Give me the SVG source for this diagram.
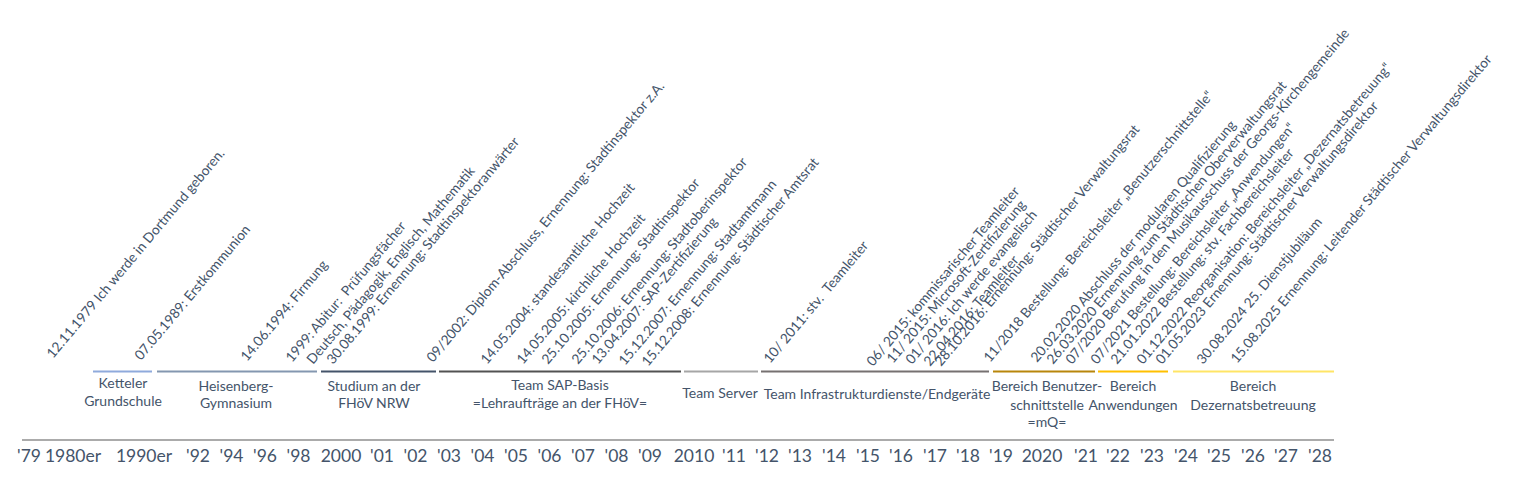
<svg xmlns="http://www.w3.org/2000/svg" width="1519" height="480" viewBox="0 0 1519 480">
<style>
text{font-family:Lato,"Open Sans","Liberation Sans",sans-serif;fill:#44546A}
.ev{font-size:13.7px}
.bl{font-size:14px;text-anchor:middle}
.ax{font-size:17.5px;text-anchor:middle}
.band{stroke-width:2;fill:none}
</style>
<rect width="1519" height="480" fill="#fff"/>
<g id="events">
<text class="ev" x="53" y="359" transform="rotate(-50 53 359)">12.11.1979 Ich werde in Dortmund geboren.</text>
<text class="ev" x="141" y="361" transform="rotate(-50 141 361)">07.05.1989: Erstkommunion</text>
<text class="ev" x="247" y="362" transform="rotate(-50 247 362)">14.06.1994: Firmung</text>
<text class="ev" x="292" y="363" transform="rotate(-50 292 363)" xml:space="preserve">1999: Abitur:  Prüfungsfächer</text>
<text class="ev" x="313" y="365" transform="rotate(-50 313 365)">Deutsch, Pädagogik, Englisch, Mathematik</text>
<text class="ev" x="333" y="365" transform="rotate(-50 333 365)">30.08.1999: Ernennung: Stadtinspektoranwärter</text>
<text class="ev" x="433" y="363" transform="rotate(-50 433 363)">09/2002: Diplom-Abschluss, Ernennung: Stadtinspektor z.A.</text>
<text class="ev" x="487" y="365" transform="rotate(-50 487 365)">14.05.2004: standesamtliche Hochzeit</text>
<text class="ev" x="523" y="365" transform="rotate(-50 523 365)">14.05.2005: kirchliche Hochzeit</text>
<text class="ev" x="548" y="365" transform="rotate(-50 548 365)">25.10.2005: Ernennung: Stadtinspektor</text>
<text class="ev" x="578" y="365" transform="rotate(-50 578 365)">25.10.2006: Ernennung: Stadtoberinspektor</text>
<text class="ev" x="598" y="365" transform="rotate(-50 598 365)">13.04.2007: SAP-Zertifizierung</text>
<text class="ev" x="625" y="366" transform="rotate(-50 625 366)">15.12.2007: Ernennung: Stadtamtmann</text>
<text class="ev" x="648" y="367" transform="rotate(-50 648 367)">15.12.2008: Ernennung: Städtischer Amtsrat</text>
<text class="ev" x="770" y="364" transform="rotate(-50 770 364)" xml:space="preserve">10/ 2011: stv.  Teamleiter</text>
<text class="ev" x="873" y="367" transform="rotate(-50 873 367)">06/ 2015: kommissarischer Teamleiter</text>
<text class="ev" x="893" y="364" transform="rotate(-50 893 364)">11/ 2015: Microsoft-Zertifizierung</text>
<text class="ev" x="912" y="365" transform="rotate(-50 912 365)">01/ 2016: Ich werde evangelisch</text>
<text class="ev" x="930" y="367" transform="rotate(-50 930 367)">22.04.2016: Teamleiter</text>
<text class="ev" x="941" y="367" transform="rotate(-50 941 367)">28.10.2016: Ernennung: Städtischer Verwaltungsrat</text>
<text class="ev" x="990" y="363" transform="rotate(-50 990 363)">11/2018 Bestellung: Bereichsleiter „Benutzerschnittstelle“</text>
<text class="ev" x="1037" y="363" transform="rotate(-50 1037 363)">20.02.2020 Abschluss der modularen Qualifizierung</text>
<text class="ev" x="1053" y="365" transform="rotate(-50 1053 365)">26.03.2020 Ernennung zum Städtischen Oberverwaltungsrat</text>
<text class="ev" x="1072" y="365" transform="rotate(-50 1072 365)">07/2020 Berufung in den Musikausschuss der Georgs-Kirchengemeinde</text>
<text class="ev" x="1097" y="365" transform="rotate(-50 1097 365)">07/2021 Bestellung: Bereichsleiter „Anwendungen“</text>
<text class="ev" x="1117" y="365" transform="rotate(-50 1117 365)">21.01.2022 Bestellung: stv. Fachbereichsleiter</text>
<text class="ev" x="1143" y="365" transform="rotate(-50 1143 365)">01.12.2022 Reorganisation: Bereichsleiter „Dezernatsbetreuung“</text>
<text class="ev" x="1162" y="365" transform="rotate(-50 1162 365)">01.05.2023 Ernennung: Städtischer Verwaltungsdirektor</text>
<text class="ev" x="1203" y="365" transform="rotate(-50 1203 365)">30.08.2024 25. Dienstjubiläum</text>
<text class="ev" x="1237" y="364" transform="rotate(-50 1237 364)">15.08.2025 Ernennung: Leitender Städtischer Verwaltungsdirektor</text>
</g>
<g id="connectors">
<line class="band" x1="93" y1="371.5" x2="152" y2="371.5" stroke="#8FAADC"/>
<line class="band" x1="157" y1="371.5" x2="317" y2="371.5" stroke="#8497B0"/>
<line class="band" x1="321" y1="371.5" x2="436" y2="371.5" stroke="#44546A"/>
<line class="band" x1="439" y1="371.5" x2="681" y2="371.5" stroke="#525252"/>
<line class="band" x1="684" y1="371.5" x2="758" y2="371.5" stroke="#A6A6A6"/>
<line class="band" x1="761" y1="371.5" x2="989" y2="371.5" stroke="#767171"/>
<line class="band" x1="993" y1="371.5" x2="1095" y2="371.5" stroke="#B8860B"/>
<line class="band" x1="1098" y1="371.5" x2="1168" y2="371.5" stroke="#FFC000"/>
<line class="band" x1="1173" y1="371.5" x2="1334" y2="371.5" stroke="#FFE566"/>
<line x1="22" y1="440" x2="1334" y2="440" stroke="#ABABAB" stroke-width="2"/>
</g>
<g id="band-ketteler"><text class="bl" x="123" y="388">Ketteler</text><text class="bl" x="123" y="406">Grundschule</text></g>
<g id="band-heisenberg"><text class="bl" x="236" y="391">Heisenberg-</text><text class="bl" x="236" y="408">Gymnasium</text></g>
<g id="band-studium"><text class="bl" x="374" y="391">Studium an der</text><text class="bl" x="374" y="408">FHöV NRW</text></g>
<g id="band-sap"><text class="bl" x="560" y="390">Team SAP-Basis</text><text class="bl" x="560" y="408">=Lehraufträge an der FHöV=</text></g>
<g id="band-server"><text class="bl" x="720" y="398">Team Server</text></g>
<g id="band-infra"><text class="bl" x="877" y="399">Team Infrastrukturdienste/Endgeräte</text></g>
<g id="band-benutzer"><text class="bl" x="1047" y="391">Bereich Benutzer-</text><text class="bl" x="1047" y="410">schnittstelle</text><text class="bl" x="1047" y="427">=mQ=</text></g>
<g id="band-anwendungen"><text class="bl" x="1133" y="391">Bereich</text><text class="bl" x="1133" y="410">Anwendungen</text></g>
<g id="band-dezernat"><text class="bl" x="1253" y="391">Bereich</text><text class="bl" x="1253" y="410">Dezernatsbetreuung</text></g>
<g id="axis">
<text class="ax" x="29" y="462">'79</text>
<text class="ax" x="73" y="462">1980er</text>
<text class="ax" x="144" y="462">1990er</text>
<text class="ax" x="198" y="462">'92</text>
<text class="ax" x="231.5" y="462">'94</text>
<text class="ax" x="265" y="462">'96</text>
<text class="ax" x="298.5" y="462">'98</text>
<text class="ax" x="341" y="462">2000</text>
<text class="ax" x="382" y="462">'01</text>
<text class="ax" x="415.5" y="462">'02</text>
<text class="ax" x="449" y="462">'03</text>
<text class="ax" x="482.5" y="462">'04</text>
<text class="ax" x="516" y="462">'05</text>
<text class="ax" x="549.5" y="462">'06</text>
<text class="ax" x="583" y="462">'07</text>
<text class="ax" x="616.5" y="462">'08</text>
<text class="ax" x="650" y="462">'09</text>
<text class="ax" x="694" y="462">2010</text>
<text class="ax" x="734" y="462">'11</text>
<text class="ax" x="767" y="462">'12</text>
<text class="ax" x="800" y="462">'13</text>
<text class="ax" x="834" y="462">'14</text>
<text class="ax" x="868" y="462">'15</text>
<text class="ax" x="901" y="462">'16</text>
<text class="ax" x="935" y="462">'17</text>
<text class="ax" x="968" y="462">'18</text>
<text class="ax" x="1001" y="462">'19</text>
<text class="ax" x="1042" y="462">2020</text>
<text class="ax" x="1086" y="462">'21</text>
<text class="ax" x="1118" y="462">'22</text>
<text class="ax" x="1152" y="462">'23</text>
<text class="ax" x="1186" y="462">'24</text>
<text class="ax" x="1219" y="462">'25</text>
<text class="ax" x="1253" y="462">'26</text>
<text class="ax" x="1286" y="462">'27</text>
<text class="ax" x="1320" y="462">'28</text>
</g>
</svg>
